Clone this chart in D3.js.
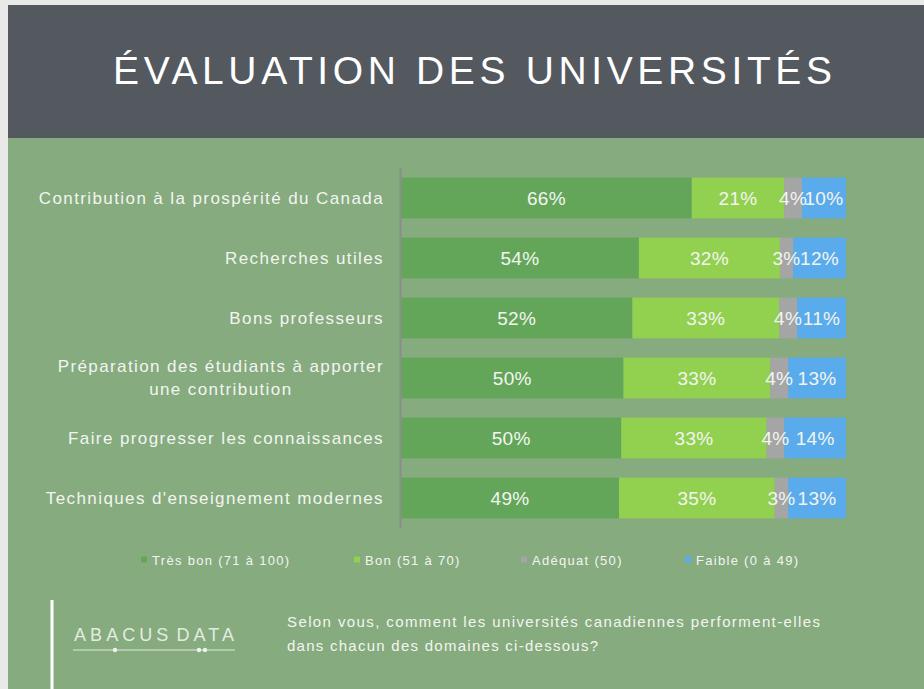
<!DOCTYPE html>
<html>
<head>
<meta charset="utf-8">
<script src="https://cdn.jsdelivr.net/npm/d3@7"></script>
<style>
  html, body { margin: 0; padding: 0; background: #e9e9e9; }
  svg { display: block; }
</style>
</head>
<body>
<script>
// Data
const categories = [
  'Contribution à la prospérité du Canada',
  'Recherches utiles',
  'Bons professeurs',
  'Préparation des étudiants à apporter une contribution',
  'Faire progresser les connaissances',
  "Techniques d'enseignement modernes",
]
const seriesKeys = ['tresBon', 'bon', 'adequat', 'faible']
const seriesLabels = ['Très bon (71 à 100)', 'Bon (51 à 70)', 'Adéquat (50)', 'Faible (0 à 49)']
const tresBon = [66, 54, 52, 50, 50, 49]
const bon = [21, 32, 33, 33, 33, 35]
const adequat = [4, 3, 4, 4, 4, 3]
const faible = [10, 12, 11, 13, 14, 13]

const colors = {
  border: '#e9e9e9',
  header: '#54585f',
  background: '#85ab7e',
  text: '#f3f5f1',
  axis: '#8a8f88',
  series: ['#63a65a', '#92d050', '#a5a5a5', '#5aabec'],
}

const width = 924
const height = 689
const font = "'Liberation Sans', Arial, sans-serif"

const rows = categories.map((c, i) => ({
  category: c,
  tresBon: tresBon[i],
  bon: bon[i],
  adequat: adequat[i],
  faible: faible[i],
}))

const svg = d3.select('body').append('svg')
  .attr('width', width)
  .attr('height', height)
  .attr('viewBox', `0 0 ${width} ${height}`)

// Slide frame
svg.append('rect').attr('width', width).attr('height', height).attr('fill', colors.border)
svg.append('rect').attr('x', 8).attr('y', 5).attr('width', width - 8).attr('height', height - 5)
  .attr('fill', colors.background)
svg.append('rect').attr('x', 8).attr('y', 5).attr('width', width - 8).attr('height', 133)
  .attr('fill', colors.header)

// Title
svg.append('text')
  .attr('x', 113).attr('y', 84)
  .attr('textLength', 719)
  .attr('lengthAdjust', 'spacing')
  .style('font-family', font)
  .style('font-size', '39px')
  .style('fill', '#ffffff')
  .text('ÉVALUATION DES UNIVERSITÉS')

// Scales
const x = d3.scaleLinear().domain([0, 1]).range([401, 846])
const y = d3.scaleBand().domain(categories).range([168, 528])
  .paddingInner(0.32).paddingOuter(0.16)

const stack = d3.stack().keys(seriesKeys).offset(d3.stackOffsetExpand)
const series = stack(rows)

const chart = svg.append('g')

series.forEach((s, si) => {
  const g = chart.append('g').attr('fill', colors.series[si])
  g.selectAll('rect')
    .data(s)
    .join('rect')
    .attr('x', d => x(d[0]))
    .attr('y', d => y(d.data.category))
    .attr('width', d => x(d[1]) - x(d[0]))
    .attr('height', y.bandwidth())
})

// Value labels
series.forEach((s, si) => {
  chart.append('g').selectAll('text')
    .data(s)
    .join('text')
    .attr('x', d => (x(d[0]) + x(d[1])) / 2)
    .attr('y', d => y(d.data.category) + y.bandwidth() / 2)
    .attr('text-anchor', 'middle')
    .attr('dominant-baseline', 'central')
    .style('font-family', font)
    .style('font-size', '19px')
    .style('letter-spacing', '0.3px')
    .style('fill', colors.text)
    .text(d => d.data[seriesKeys[si]] + '%')
})

// Axis line
const yAxis = svg.append('g')
  .attr('transform', 'translate(400,0)')
  .call(d3.axisLeft(y).tickSize(0).tickFormat(''))
yAxis.select('.domain').attr('stroke', colors.axis).attr('stroke-width', 2)

// Category labels (wrapped, lines centred on each other, block right aligned)
const labelRight = 384
const maxLabelWidth = 350
categories.forEach(cat => {
  const t = svg.append('text')
    .attr('text-anchor', 'middle')
    .style('font-family', font)
    .style('font-size', '17px')
    .style('letter-spacing', '1.4px')
    .style('fill', colors.text)

  // greedy wrap
  const words = cat.split(' ')
  const lines = []
  let line = []
  const probe = t.append('tspan')
  words.forEach(w => {
    const trial = line.concat(w).join(' ')
    probe.text(trial)
    if (probe.node().getComputedTextLength() > maxLabelWidth && line.length) {
      lines.push(line.join(' '))
      line = [w]
    } else {
      line.push(w)
    }
  })
  lines.push(line.join(' '))

  const widths = lines.map(l => { probe.text(l); return probe.node().getComputedTextLength() })
  probe.remove()
  const blockW = d3.max(widths)
  const cx = labelRight - blockW / 2
  const lineH = 23
  const cy = y(cat) + y.bandwidth() / 2 - (lines.length - 1) * lineH / 2

  lines.forEach((l, i) => {
    t.append('tspan')
      .attr('x', cx)
      .attr('y', cy + i * lineH)
      .attr('dominant-baseline', 'central')
      .text(l)
  })
})

// Legend
const legendX = [141, 354, 521, 685]
const legend = svg.append('g')
seriesLabels.forEach((label, i) => {
  legend.append('rect')
    .attr('x', legendX[i]).attr('y', 556.5)
    .attr('width', 6).attr('height', 6)
    .attr('fill', colors.series[i])
  legend.append('text')
    .attr('x', legendX[i] + 11).attr('y', 560)
    .attr('dominant-baseline', 'central')
    .style('font-family', font)
    .style('font-size', '13px')
    .style('letter-spacing', '1.3px')
    .style('fill', colors.text)
    .text(label)
})

// Footer: logo + question
svg.append('line')
  .attr('x1', 52).attr('x2', 52).attr('y1', 600).attr('y2', height)
  .attr('stroke', '#ffffff').attr('stroke-width', 3)

svg.append('text')
  .attr('x', 74).attr('y', 641)
  .attr('textLength', 160)
  .attr('lengthAdjust', 'spacing')
  .style('font-family', font)
  .style('font-size', '18px')
  .style('word-spacing', '-5px')
  .style('fill', '#e4ece1')
  .text('ABACUS DATA')

svg.append('line')
  .attr('x1', 73).attr('x2', 235).attr('y1', 650).attr('y2', 650)
  .attr('stroke', '#dfe8dc').attr('stroke-width', 1)
;[115, 199, 205].forEach(cx => {
  svg.append('circle').attr('cx', cx).attr('cy', 650).attr('r', 2.2).attr('fill', '#eef3ec')
})

const question = [
  'Selon vous, comment les universités canadiennes performent-elles',
  'dans chacun des domaines ci-dessous?',
]
const questionWidths = [533, 311]
question.forEach((q, i) => {
  svg.append('text')
    .attr('x', 287).attr('y', 627 + i * 24)
    .attr('textLength', questionWidths[i])
    .attr('lengthAdjust', 'spacing')
    .style('font-family', font)
    .style('font-size', '15px')
    .style('fill', colors.text)
    .text(q)
})
</script>
</body>
</html>
